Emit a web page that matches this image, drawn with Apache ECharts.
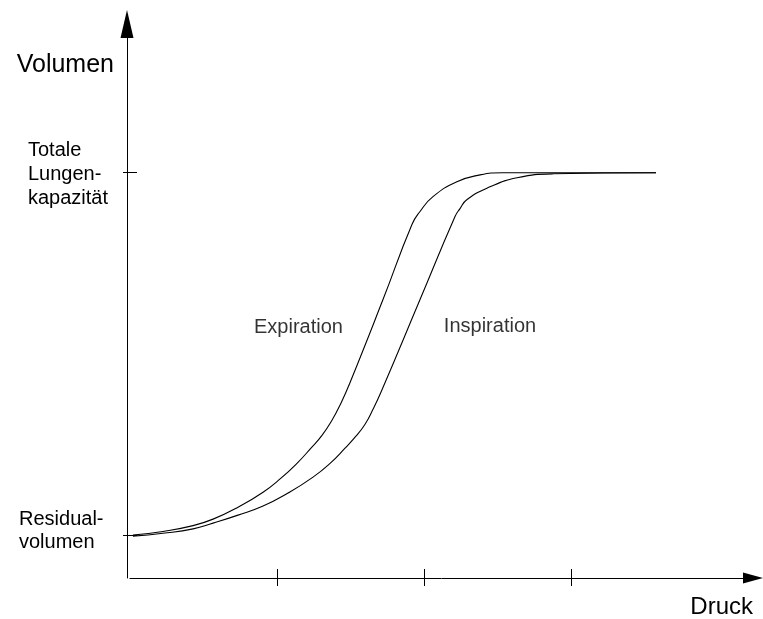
<!DOCTYPE html>
<html><head><meta charset="utf-8">
<script src="https://cdn.jsdelivr.net/npm/echarts@6/dist/echarts.min.js"></script>
<style>html,body{margin:0;padding:0;background:#fff}#c{width:763px;height:619px}</style>
</head><body><div id="c"></div>
<script>
// Pressure (arbitrary units) and volume (% between residual volume = 0 and total lung capacity = 100)
const expirationX = [0.02, 0.224, 0.429, 0.565, 0.735, 0.905, 1.027, 1.136, 1.231, 1.306, 1.374, 1.435, 1.497, 1.721, 1.918, 1.973, 2.061, 2.224, 2.381, 2.531, 3.578];
const expirationY = [0, 1.0, 2.6, 4.4, 7.7, 11.8, 15.7, 19.8, 24.0, 27.5, 31.7, 36.4, 42.1, 65.0, 85.7, 89.3, 93.4, 97.5, 99.4, 100, 100];
const inspirationX = [0.02, 0.224, 0.429, 0.565, 0.735, 0.905, 1.075, 1.245, 1.361, 1.463, 1.537, 1.599, 1.653, 1.707, 1.973, 2.211, 2.245, 2.293, 2.449, 2.633, 2.878, 3.578];
const inspirationY = [-0.3, 0.5, 1.7, 3.3, 5.5, 8.0, 11.6, 16.0, 19.8, 24.0, 27.3, 30.6, 34.7, 39.4, 65.0, 87.9, 90.1, 92.6, 96.1, 98.6, 99.7, 100];
const xTicks = [1, 2, 3];
const yTickValues = [0, 100];
const yTickLabels = ['Residual-\nvolumen', 'Totale\nLungen-\nkapazität'];
const curveNames = ['Expiration', 'Inspiration'];
const curveLabelX = [1.146, 2.449];
const curveLabelY = [57.3, 57.6];
const xRange = [0, 4.238];
const yRange = [-11.85, 141.05];

const FONT = 'Liberation Sans, Arial, sans-serif';
const toPairs = (xs, ys) => xs.map((x, i) => [x, ys[i]]);
const richLines = s => s.split('\n').map(l => '{a|' + l + '}').join('\n');

const chart = echarts.init(document.getElementById('c'), null, {renderer: 'canvas'});
const baseX = {
  type: 'value', min: xRange[0], max: xRange[1], position: 'bottom',
  splitLine: {show: false}, axisLabel: {show: false}
};
const baseY = {
  type: 'value', min: yRange[0], max: yRange[1], position: 'left', offset: 3,
  splitLine: {show: false}
};
chart.setOption({
  animation: false,
  backgroundColor: '#fff',
  grid: {left: 130, right: 10, top: 24, bottom: 40, containLabel: false},
  xAxis: [
    Object.assign({}, baseX, {
      axisLine: {show: true, onZero: false, symbol: ['none', 'triangle'], symbolSize: [11, 20], lineStyle: {color: '#000', width: 1}},
      axisTick: {show: true, inside: true, length: 9, customValues: xTicks, lineStyle: {color: '#000', width: 1}},
      name: 'Druck', nameLocation: 'end', nameGap: 0, nameMoveOverlap: false,
      nameTextStyle: {fontFamily: FONT, fontSize: 24, color: '#000', align: 'right', verticalAlign: 'top', padding: [17, 0, 0, 0]}
    }),
    Object.assign({}, baseX, {
      axisLine: {show: false, onZero: false},
      axisTick: {show: true, inside: false, length: 8, customValues: xTicks, lineStyle: {color: '#000', width: 1}}
    })
  ],
  yAxis: [
    Object.assign({}, baseY, {
      axisLine: {show: true, onZero: false, symbol: ['none', 'triangle'], symbolSize: [13, 28], lineStyle: {color: '#000', width: 1}},
      axisTick: {show: true, inside: false, length: 4, customValues: yTickValues, lineStyle: {color: '#000', width: 1}},
      axisLabel: {show: true, customValues: [yTickValues[1]], formatter: () => '{s| }\n' + richLines(yTickLabels[1]), align: 'left', margin: 99,
        fontFamily: FONT, fontSize: 20, color: '#000',
        rich: {a: {fontFamily: FONT, fontSize: 20, lineHeight: 24, color: '#000'}, s: {fontSize: 1, lineHeight: 4}}},
      name: 'Volumen', nameLocation: 'end', nameGap: -41, nameMoveOverlap: false,
      nameTextStyle: {fontFamily: FONT, fontSize: 25, color: '#000', align: 'right', verticalAlign: 'middle', padding: [0, 13, 0, 0]}
    }),
    Object.assign({}, baseY, {
      axisLine: {show: false, onZero: false},
      axisTick: {show: true, inside: true, length: 10, customValues: yTickValues, lineStyle: {color: '#000', width: 1}},
      axisLabel: {show: true, customValues: [yTickValues[0]], formatter: () => richLines(yTickLabels[0]) + '\n{s| }', align: 'left', margin: 108,
        fontFamily: FONT, fontSize: 20, color: '#000',
        rich: {a: {fontFamily: FONT, fontSize: 20, lineHeight: 23, color: '#000'}, s: {fontSize: 1, lineHeight: 8}}}
    })
  ],
  series: [
    {name: curveNames[0], type: 'line', data: toPairs(expirationX, expirationY), showSymbol: false, smooth: 0.5,
      lineStyle: {color: '#000', width: 1.1}, z: 3},
    {name: curveNames[1], type: 'line', data: toPairs(inspirationX, inspirationY), showSymbol: false, smooth: 0.5,
      lineStyle: {color: '#000', width: 1.1}, z: 3},
    {type: 'scatter', symbolSize: 0, silent: true,
      data: curveNames.map((n, i) => ({name: n, value: [curveLabelX[i], curveLabelY[i]]})),
      label: {show: true, position: 'inside', formatter: p => p.name, fontFamily: FONT, fontSize: 20, color: '#000'}}
  ]
});
</script>
</body></html>
